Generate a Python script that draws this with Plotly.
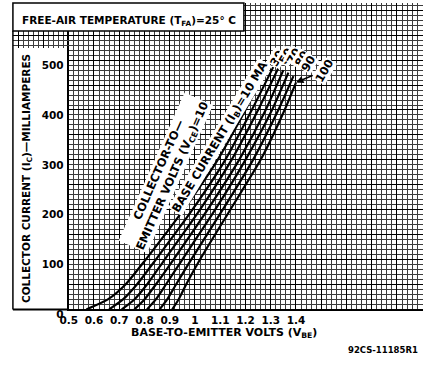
import plotly.graph_objects as go

W, H = 423, 366

# ---- data ----
ib_labels = ["10 MA", "30", "50", "70", "80", "90", "100"]
ic_c1 = [0, 20, 50, 100, 200, 300, 400, 488]
vbe_c1 = [0.57, 0.655, 0.725, 0.805, 0.955, 1.09, 1.20, 1.29]
ic_c2 = [0, 20, 50, 100, 200, 300, 400, 486]
vbe_c2 = [0.66, 0.715, 0.77, 0.845, 0.99, 1.12, 1.225, 1.31]
ic_c3 = [0, 20, 50, 100, 200, 300, 400, 484]
vbe_c3 = [0.71, 0.76, 0.81, 0.88, 1.02, 1.145, 1.25, 1.33]
ic_c4 = [0, 20, 50, 100, 200, 300, 400, 480]
vbe_c4 = [0.76, 0.80, 0.845, 0.915, 1.05, 1.175, 1.28, 1.35]
ic_c5 = [0, 20, 50, 100, 200, 300, 400, 475]
vbe_c5 = [0.81, 0.845, 0.885, 0.95, 1.08, 1.20, 1.305, 1.37]
ic_c6 = [0, 20, 50, 100, 200, 300, 400, 468]
vbe_c6 = [0.86, 0.89, 0.925, 0.985, 1.11, 1.23, 1.33, 1.39]
ic_c7 = [0, 20, 50, 100, 200, 300, 400, 455]
vbe_c7 = [0.91, 0.935, 0.965, 1.02, 1.14, 1.26, 1.355, 1.40]

x_tickvals = [0.5, 0.6, 0.7, 0.8, 0.9, 1.0, 1.1, 1.2, 1.3, 1.4, 1.5, 1.6, 1.7, 1.8]
x_ticktext = ["0.5", "0.6", "0.7", "0.8", "0.9", "1", "1.1", "1.2", "1.3", "1.4", " ", " ", " ", " "]
y_tickvals = [0, 50, 100, 150, 200, 250, 300, 350, 400, 450, 500, 550, 600]
y_ticktext = ["0", " ", "100", " ", "200", " ", "300", " ", "400", " ", "500", " ", " "]

FONT = "DejaVu Sans"

def px(xp):
    return xp / W

def py(yp):
    return 1 - yp / H

# pixel geometry
X0, X1 = 61, 423
Y0, Y1 = 319, 3
XSCALE = 258.0   # px per volt
YSCALE = 0.514   # px per mA
xr = [0.5, 0.5 + (X1 - X0) / XSCALE]
yr = [0, (Y0 - Y1) / YSCALE]

fig = go.Figure()
curves = [(vbe_c1, ic_c1), (vbe_c2, ic_c2), (vbe_c3, ic_c3), (vbe_c4, ic_c4),
          (vbe_c5, ic_c5), (vbe_c6, ic_c6), (vbe_c7, ic_c7)]
for (v, i), lab in zip(curves, ib_labels):
    fig.add_trace(go.Scatter(x=v, y=i, mode="lines",
                             line=dict(color="black", width=2.2, shape="spline", smoothing=0.6),
                             name=lab, showlegend=False, hoverinfo="skip", cliponaxis=False))

fig.add_trace(go.Scatter(x=[None], y=[None], xaxis="x2", yaxis="y2", showlegend=False))

grid_major = dict(showgrid=True, gridcolor="black", gridwidth=1.4)
minor_x = dict(dtick=0.02, tick0=0.5, showgrid=True, gridcolor="#3c3c3c", gridwidth=1, ticks="")
minor_y = dict(dtick=10, tick0=0, showgrid=True, gridcolor="#3c3c3c", gridwidth=1, ticks="")

TF = dict(family=FONT, size=10.5, color="black", weight="bold")

fig.update_layout(
    width=W, height=H, margin=dict(l=0, r=0, t=0, b=0),
    paper_bgcolor="white", plot_bgcolor="white",
    font=dict(family=FONT, color="black", size=10.5, weight="bold"),
    xaxis=dict(domain=[px(X0), px(X1)], range=xr, tickmode="array", tickvals=x_tickvals, ticktext=x_ticktext,
               showline=True, linecolor="black", linewidth=2, zeroline=False, ticks="",
               tickfont=TF, ticklabelstandoff=0,
               minor=minor_x, **grid_major),
    yaxis=dict(domain=[py(Y0), py(Y1)], range=yr, tickmode="array", tickvals=y_tickvals, ticktext=y_ticktext,
               showline=True, linecolor="black", linewidth=2, zeroline=False, ticks="",
               tickfont=TF, ticklabelstandoff=1, ticklabelshift=5,
               minor=minor_y, **grid_major),
    xaxis2=dict(domain=[px(4), px(X0)], range=[0.5 - (X0 - 4) / XSCALE, 0.5], anchor="y2",
                tickmode="linear", tick0=0.5, dtick=0.1, showticklabels=False, ticks="", zeroline=False,
                minor=minor_x, **grid_major),
    yaxis2=dict(domain=[py(50), py(32)], range=[(Y0 - 50) / YSCALE, (Y0 - 32) / YSCALE], anchor="x2",
                tickmode="linear", tick0=0, dtick=50, showticklabels=False, ticks="", zeroline=False,
                minor=minor_y, **grid_major),
)

shapes = [
    # title box
    dict(type="rect", xref="paper", yref="paper", x0=px(4), x1=px(240), y0=py(32), y1=py(3),
         fillcolor="white", line=dict(color="black", width=1.5), layer="above"),
    # label column outline
    dict(type="line", xref="paper", yref="paper", x0=px(4), x1=px(4), y0=py(32), y1=py(Y0),
         line=dict(color="black", width=1.5), layer="above"),
    dict(type="line", xref="paper", yref="paper", x0=px(4), x1=px(X0), y0=py(Y0), y1=py(Y0),
         line=dict(color="black", width=2), layer="above"),
]
fig.update_layout(shapes=shapes)

def dx(p):
    return 0.5 + (p - X0) / XSCALE

def dy(p):
    return (Y0 - p) / YSCALE

LF = dict(size=11.5)
ann = [
    dict(text="FREE-AIR TEMPERATURE (T<sub>FA</sub>)=25° C", x=px(11), y=py(22), xref="paper", yref="paper",
         xanchor="left", yanchor="middle", showarrow=False),
    dict(text="BASE-TO-EMITTER VOLTS (V<sub>BE</sub>)", x=px(220), y=py(343), xref="paper", yref="paper",
         xanchor="center", yanchor="middle", showarrow=False, font=dict(size=11)),
    dict(text="COLLECTOR CURRENT (I<sub>C</sub>)—MILLIAMPERES", x=px(19), y=py(184), xref="paper", yref="paper",
         xanchor="center", yanchor="middle", showarrow=False, textangle=-90),
    dict(text="92CS-11185R1", x=px(420), y=py(361), xref="paper", yref="paper",
         xanchor="right", yanchor="middle", showarrow=False, font=dict(size=8.5)),
    dict(text="COLLECTOR-TO—<br>EMITTER VOLTS (V<sub>CE</sub>)=10", x=dx(160), y=dy(178),
         showarrow=False, textangle=-66, align="center", bgcolor="white", borderpad=0, font=LF),
    dict(text="BASE CURRENT (I<sub>B</sub>)=10 MA", x=dx(216), y=dy(141),
         showarrow=False, textangle=-59, bgcolor="white", borderpad=0, font=LF),
]
lab_pos = [(274, 60), (283, 58), (291, 58), (299, 61), (306, 65)]
for lab, (lx, ly) in zip(ib_labels[1:6], lab_pos):
    ann.append(dict(text=lab, x=dx(lx), y=dy(ly), showarrow=False,
                    textangle=-60, bgcolor="white", borderpad=0, font=LF))
ann.append(dict(text=ib_labels[6], x=vbe_c7[-1], y=ic_c7[-1], ax=28, ay=-12, showarrow=True,
                arrowhead=2, arrowsize=1, arrowwidth=1.5, arrowcolor="black",
                textangle=-60, bgcolor="white", borderpad=0, font=LF))
fig.update_layout(annotations=ann)

fig.write_html("out.html", config={"displayModeBar": False},
               post_script="document.body.style.margin='0';document.body.style.padding='0';"
                           "document.documentElement.style.overflow='hidden';document.body.style.overflow='hidden';")
